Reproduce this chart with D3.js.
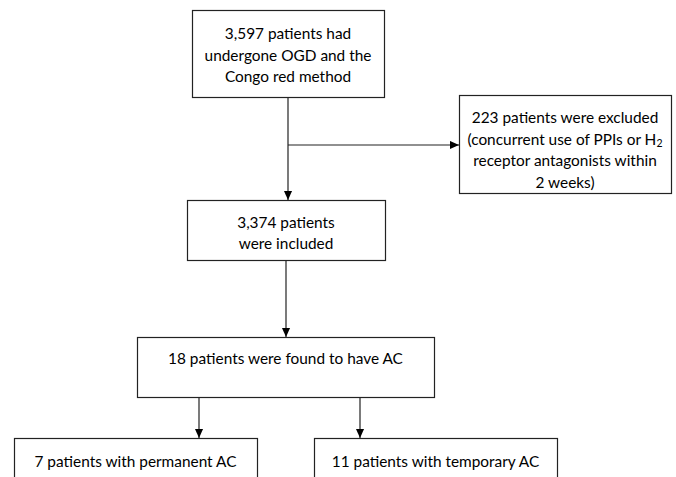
<!DOCTYPE html>
<html><head><meta charset="utf-8">
<script src="https://cdn.jsdelivr.net/npm/d3@7"></script>
<style>html,body{margin:0;padding:0;background:#fff;}svg{display:block;}</style>
</head><body>
<svg id="c" width="676" height="477"></svg>
<script>
const nodeIds = ["start","excluded","included","ac","permanent","temporary"];
const nodeLines = [
  ["3,597 patients had","undergone OGD and the","Congo red method"],
  ["223 patients were excluded","(concurrent use of PPIs or H|2","receptor antagonists within","2 weeks)"],
  ["3,374 patients","were included"],
  ["18 patients were found to have AC"],
  ["7 patients with permanent AC"],
  ["11 patients with temporary AC"]
];
const links = [["start","included"],["start","excluded"],["included","ac"],["ac","permanent"],["ac","temporary"]];

// layout (geometry, separate from data)
const layout = {
  start:    {x:192,y:10, w:192,h:87, ty:[33,55,76]},
  excluded: {x:459,y:95, w:212,h:98, ty:[117,139,160,182]},
  included: {x:187,y:200,w:198,h:60, ty:[222,243]},
  ac:       {x:137,y:337,w:297,h:60, ty:[358]},
  permanent:{x:14, y:438,w:243,h:60, ty:[461]},
  temporary:{x:314,y:438,w:243,h:60, ty:[461]}
};
const svg = d3.select("#c");
const stroke = "#222";
svg.append("defs").append("marker").attr("id","ah").attr("viewBox","0 0 10 10")
  .attr("refX",10).attr("refY",5).attr("markerWidth",9).attr("markerHeight",9)
  .attr("markerUnits","userSpaceOnUse").attr("orient","auto")
  .append("path").attr("d","M0,0.5L10,5L0,9.5Z").attr("fill","#000");

const nodes = nodeIds.map((id,i)=>({id, lines:nodeLines[i], ...layout[id]}));

const linkPaths = {
  "start-included": [[288,97],[288,200]],
  "start-excluded": [[288,145],[459,145]],
  "included-ac": [[286,260],[286,337]],
  "ac-permanent": [[199,397],[199,438]],
  "ac-temporary": [[360,397],[360,438]]
};
const line = d3.line();
svg.selectAll("path.link").data(links).join("path").attr("class","link")
  .attr("d",d=>line(linkPaths[d[0]+"-"+d[1]]))
  .attr("fill","none").attr("stroke",stroke).attr("stroke-width",1.2)
  .attr("marker-end","url(#ah)");

const g = svg.selectAll("g.node").data(nodes).join("g").attr("class","node");
g.append("rect").attr("x",d=>d.x+0.5).attr("y",d=>d.y+0.5).attr("width",d=>d.w).attr("height",d=>d.h)
  .attr("fill","#fff").attr("stroke",stroke).attr("stroke-width",1.2);
g.each(function(d){
  const sel = d3.select(this);
  d.lines.forEach((t,i)=>{
    const tx = sel.append("text").attr("x",d.x+d.w/2).attr("y",d.ty[i])
      .attr("text-anchor","middle").attr("dominant-baseline","central")
      .attr("font-family","Lato, 'Open Sans', sans-serif").attr("font-size",15.4).attr("fill","#000");
    const parts = t.split("|");
    tx.append("tspan").text(parts[0]);
    if(parts[1]) tx.append("tspan").attr("font-size",10.5).attr("dy",4).text(parts[1]);
  });
});
</script>
</body></html>
